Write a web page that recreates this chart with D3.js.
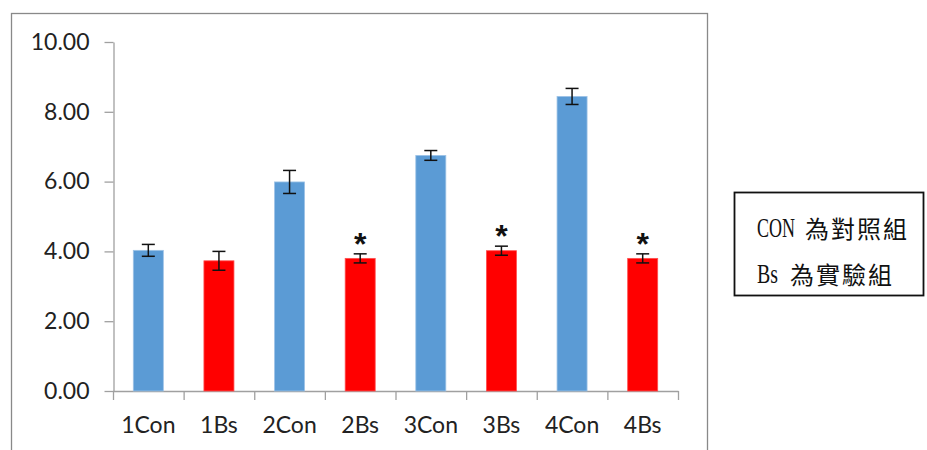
<!DOCTYPE html>
<html>
<head>
<meta charset="utf-8">
<script src="https://cdn.jsdelivr.net/npm/d3@7"></script>
<style>
  html, body { margin: 0; padding: 0; background: #fff; }
  svg { display: block; }
</style>
</head>
<body>
<svg id="chart" width="927" height="450"></svg>
<script>
// Groups along the x axis
const categories = ["1Con", "1Bs", "2Con", "2Bs", "3Con", "3Bs", "4Con", "4Bs"];
// Mean value of each group
const means = [4.03, 3.73, 5.99, 3.80, 6.75, 4.02, 8.44, 3.80];
// Error bar half-length of each group
const errors = [0.17, 0.27, 0.33, 0.13, 0.14, 0.13, 0.23, 0.13];
// Whether the group is a control (blue) or a Bs group (red)
const groupType = ["con", "bs", "con", "bs", "con", "bs", "con", "bs"];
// Groups marked as significant
const significant = [false, false, false, true, false, true, false, true];
// Y axis ticks
const yTicks = [0, 2, 4, 6, 8, 10];
// Legend lines: Latin prefix and CJK description
const legendPrefix = ["CON", "Bs"];
const legendDesc = ["為對照組", "為實驗組"];

const colors = { con: "#5b9bd5", bs: "#ff0000" };
const outlines = { con: "#9dc3e6", bs: "#ff5050" };

const svg = d3.select("#chart");

// Chart area frame
svg.append("rect")
  .attr("x", 11.5).attr("y", 13.5)
  .attr("width", 696).attr("height", 460)
  .attr("fill", "#fff")
  .attr("stroke", "#898989")
  .attr("stroke-width", 1.3);

const x = d3.scaleBand()
  .domain(categories)
  .range([113, 678])
  .paddingInner(0.575)
  .paddingOuter(0.2875);

const y = d3.scaleLinear().domain([0, 10]).range([391, 42]);

const data = categories.map((c, i) => ({
  cat: c, mean: means[i], err: errors[i], type: groupType[i], sig: significant[i]
}));

const labelFont = "Lato, 'Open Sans', sans-serif";

// Y axis
const yAxis = svg.append("g")
  .attr("transform", "translate(113.5,0)")
  .call(d3.axisLeft(y).tickValues(yTicks).tickFormat(d3.format(".2f"))
    .tickSizeInner(9).tickSizeOuter(0).tickPadding(15));
yAxis.select(".domain").attr("stroke", "#a0a0a0").attr("stroke-width", 1.3);
yAxis.selectAll(".tick line").attr("stroke", "#a0a0a0").attr("stroke-width", 1.3);
yAxis.selectAll(".tick text")
  .attr("fill", "#222")
  .style("font-family", labelFont)
  .style("font-size", "23px");

// X axis baseline with category boundary ticks
const step = x.step();
const x0 = x.range()[0];
const xAxis = svg.append("g");
xAxis.append("line")
  .attr("x1", x0).attr("x2", x.range()[1] + 0.5)
  .attr("y1", y(0) + 0.5).attr("y2", y(0) + 0.5)
  .attr("stroke", "#a0a0a0").attr("stroke-width", 1.3);
xAxis.selectAll("line.bound")
  .data(d3.range(categories.length + 1))
  .join("line")
  .attr("class", "bound")
  .attr("x1", i => x0 + i * step + 0.5).attr("x2", i => x0 + i * step + 0.5)
  .attr("y1", y(0)).attr("y2", y(0) + 9)
  .attr("stroke", "#a0a0a0").attr("stroke-width", 1.3);
xAxis.selectAll("text")
  .data(categories)
  .join("text")
  .attr("x", d => x(d) + x.bandwidth() / 2)
  .attr("y", 433)
  .attr("text-anchor", "middle")
  .attr("fill", "#222")
  .style("font-family", labelFont)
  .style("font-size", "23px")
  .text(d => d);

// Bars
svg.append("g").selectAll("rect")
  .data(data)
  .join("rect")
  .attr("x", d => x(d.cat))
  .attr("y", d => y(d.mean))
  .attr("width", x.bandwidth())
  .attr("height", d => y(0) - y(d.mean))
  .attr("fill", d => colors[d.type])
  .attr("stroke", d => outlines[d.type])
  .attr("stroke-width", 0.8);

// Error bars
const capHalf = 6.5;
const eb = svg.append("g").attr("stroke", "#111").attr("stroke-width", 1.5);
data.forEach(d => {
  const cx = x(d.cat) + x.bandwidth() / 2;
  const yt = y(d.mean + d.err), yb = y(d.mean - d.err);
  eb.append("line").attr("x1", cx).attr("x2", cx).attr("y1", yt).attr("y2", yb);
  eb.append("line").attr("x1", cx - capHalf).attr("x2", cx + capHalf).attr("y1", yt).attr("y2", yt);
  eb.append("line").attr("x1", cx - capHalf).attr("x2", cx + capHalf).attr("y1", yb).attr("y2", yb);
});

// Significance markers
svg.append("g").selectAll("text")
  .data(data.filter(d => d.sig))
  .join("text")
  .attr("x", d => x(d.cat) + x.bandwidth() / 2)
  .attr("y", d => y(d.mean + d.err) + 1)
  .attr("text-anchor", "middle")
  .attr("fill", "#111")
  .style("font-family", "'Liberation Sans', Arial, sans-serif")
  .style("font-weight", "bold")
  .style("font-size", "32px")
  .text("*");

// Legend box
svg.append("rect")
  .attr("x", 734.5).attr("y", 192.5)
  .attr("width", 189).attr("height", 103)
  .attr("fill", "#fff")
  .attr("stroke", "#111")
  .attr("stroke-width", 1.8);

const baselines = [237, 283];
const prefixWidths = [38, 21];
const descStarts = [805, 790];
const legend = svg.append("g").attr("fill", "#111");

// Condensed serif prefix, squeezed horizontally to its target width
legendPrefix.forEach((p, i) => {
  const g = legend.append("g");
  const t = g.append("text")
    .attr("x", 0).attr("y", 0)
    .style("font-family", "'Liberation Serif', serif")
    .style("font-size", "28px")
    .text(p);
  const natural = t.node().getComputedTextLength();
  g.attr("transform", `translate(757,${baselines[i]}) scale(${prefixWidths[i] / natural},1)`);
});

// CJK description
legend.selectAll("text.desc")
  .data(legendDesc)
  .join("text")
  .attr("class", "desc")
  .attr("x", (d, i) => descStarts[i])
  .attr("y", (d, i) => baselines[i] + 1)
  .style("font-family", "'Noto Sans CJK TC', sans-serif")
  .style("font-size", "24px")
  .style("letter-spacing", "2px")
  .text(d => d);
</script>
</body>
</html>
